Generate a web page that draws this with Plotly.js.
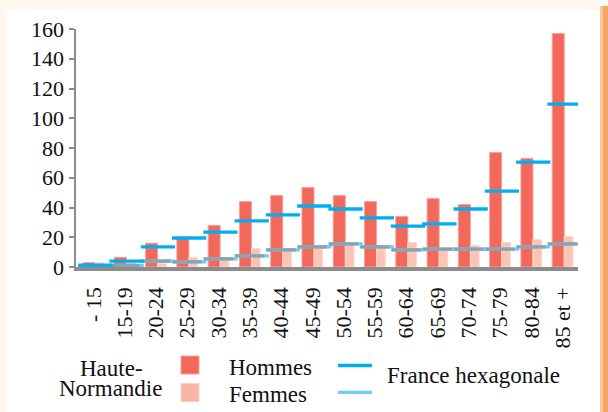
<!DOCTYPE html>
<html>
<head>
<meta charset="utf-8">
<script src="https://cdn.plot.ly/plotly-3.0.1.min.js"></script>
<style>
  html, body { margin: 0; padding: 0; background: #ffffff; }
  #chart { position: absolute; left: 0; top: 0; width: 608px; height: 412px; }
  #chart svg text { font-family: 'Liberation Serif', 'Times New Roman', serif !important; }
  #tick { position: absolute; left: 0; top: 0; font: 1px 'Liberation Serif'; color: #fff; }
</style>
</head>
<body>
<div id="chart"></div>
<div id="tick">.</div>
<script>
// ---- Data ----
const categories = ['- 15','15-19','20-24','25-29','30-34','35-39','40-44','45-49',
                    '50-54','55-59','60-64','65-69','70-74','75-79','80-84','85 et +'];
const hommesHN = [3, 6.5, 16, 20, 28, 44, 48, 53.5, 48, 44, 34, 46, 42, 77, 73, 157];
const femmesHN = [3, 3, 2.5, 6.5, 6.5, 12.5, 11, 13, 16, 14.5, 16.5, 12, 14.5, 16.5, 18.5, 20.5];
const hommesFR = [1.2, 4, 13.5, 19.5, 23.5, 31, 35, 41, 39, 33, 27.5, 29, 39, 51, 70.5, 109.5];
const femmesFR = [0.8, 1, 4, 3.5, 5.5, 7.5, 11.5, 13.5, 15.5, 13.5, 11.5, 12, 12, 12, 13.5, 15.5];
const yTicks = [0, 20, 40, 60, 80, 100, 120, 140, 160];

const idx = categories.map((_, i) => i);
const shifted = idx.map(i => i + 0.058);

const W = 608, H = 412;
const ML = 76, MR = 30, MT = 29, MB = 145;
const px2x = px => (px - ML) / (W - ML - MR);
const py2y = py => (H - MB - py) / (H - MT - MB);

const FONT = 'Liberation Serif';

const traces = [
  { type: 'bar', name: 'Hommes', x: idx, y: hommesHN, width: 0.385, offset: -0.335,
    marker: { color: '#F2695C', line: { color: '#F7A198', width: 1 } } },
  { type: 'bar', name: 'Femmes', x: idx, y: femmesHN, width: 0.28, offset: 0.05,
    marker: { color: '#FBC4B5', line: { color: '#FDDAD0', width: 1 } } },
  { type: 'scatter', mode: 'markers', name: 'France hexagonale - Femmes', x: shifted, y: femmesFR,
    marker: { symbol: 'line-ew', size: 24.5, line: { color: '#6DCFF6', width: 3.3 } } },
  { type: 'scatter', mode: 'markers', name: 'France hexagonale - Femmes', x: idx, y: femmesFR,
    marker: { symbol: 'line-ew', size: 20.8, line: { color: '#8DA2AC', width: 3.3 } } },
  { type: 'scatter', mode: 'markers', name: 'France hexagonale - Hommes', x: shifted, y: hommesFR,
    marker: { symbol: 'line-ew', size: 24.5, line: { color: '#00AEEF', width: 3.3 } } }
];

function ann(text, px, py, anchor) {
  return {
    text: text, xref: 'paper', yref: 'paper', x: px2x(px), y: py2y(py),
    xanchor: anchor || 'left', yanchor: 'middle', showarrow: false,
    font: { family: FONT, size: 23, color: '#111' }
  };
}
function box(x0, x1, y0, y1, color) {
  return { type: 'rect', layer: 'below', xref: 'paper', yref: 'paper',
    x0: px2x(x0), x1: px2x(x1), y0: py2y(y0), y1: py2y(y1),
    fillcolor: color, line: { width: 0 } };
}

const layout = {
  width: W, height: H,
  margin: { l: ML, r: MR, t: MT, b: MB },
  font: { family: FONT, size: 22, color: '#111' },
  paper_bgcolor: '#FFF8F1',
  plot_bgcolor: '#ffffff',
  barmode: 'overlay',
  showlegend: false,
  xaxis: {
    range: [-0.56, 15.49], tickmode: 'array', tickvals: idx, ticktext: categories,
    tickangle: -90, ticks: 'outside', ticklen: 8, tickcolor: 'rgba(0,0,0,0)',
    showgrid: false, zeroline: false,
    showline: true, linecolor: '#8C8C8C', linewidth: 3.5,
    tickfont: { family: FONT, size: 22, color: '#111' }
  },
  yaxis: {
    range: [0, 160], tickmode: 'array', tickvals: yTicks,
    ticks: 'outside', ticklen: 5, tickwidth: 2, tickcolor: '#8C8C8C',
    showline: true, linecolor: '#8C8C8C', linewidth: 2.5,
    showgrid: false, zeroline: false,
    tickfont: { family: FONT, size: 22, color: '#111' }
  },
  shapes: [
    box(7, 600, 10, 412, '#ffffff'),
    box(600, 603, 6, 412, '#FBC79C'),
    box(603, 608, 6, 412, '#F7A664'),
    { type: 'rect', xref: 'paper', yref: 'paper', x0: px2x(181), x1: px2x(199), y0: py2y(356), y1: py2y(374),
      fillcolor: '#F2695C', line: { color: '#F7A198', width: 1 } },
    { type: 'rect', xref: 'paper', yref: 'paper', x0: px2x(181), x1: px2x(199), y0: py2y(383.5), y1: py2y(401.5),
      fillcolor: '#F8B4A4', line: { color: '#FBCFC5', width: 1 } },
    { type: 'line', xref: 'paper', yref: 'paper', x0: px2x(338), x1: px2x(372), y0: py2y(365.5), y1: py2y(365.5),
      line: { color: '#00AEEF', width: 3.3 } },
    { type: 'line', xref: 'paper', yref: 'paper', x0: px2x(338), x1: px2x(372), y0: py2y(392.3), y1: py2y(392.3),
      line: { color: '#6DCFF6', width: 3.3 } }
  ],
  annotations: [
    ann('Haute-', 111, 368, 'center'),
    ann('Normandie', 110, 388.5, 'center'),
    ann('Hommes', 227, 367.5),
    ann('Femmes', 227, 395),
    ann('France hexagonale', 385, 375)
  ]
};

function draw() {
  return Plotly.newPlot('chart', traces, layout, { displayModeBar: false, staticPlot: true })
    .then(() => { document.getElementById('tick').textContent = '\u00a0'; });
}

const ready = (document.fonts && document.fonts.load)
  ? document.fonts.load('22px "Liberation Serif"').catch(() => null)
  : Promise.resolve();
ready.then(draw, draw);
</script>
</body>
</html>
